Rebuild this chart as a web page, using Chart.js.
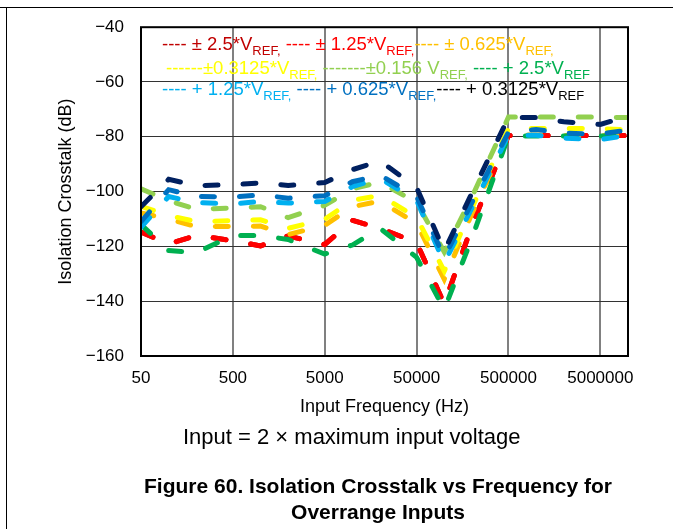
<!DOCTYPE html>
<html>
<head>
<meta charset="utf-8">
<script src="https://cdn.jsdelivr.net/npm/chart.js@4.4.1/dist/chart.umd.min.js"></script>
<style>
  body { margin: 0; background: #fff; font-family: 'Liberation Sans', Arial, sans-serif; }
  #wrap { position: relative; width: 673px; height: 529px; overflow: hidden; }
  #chart { position: absolute; left: 0; top: 0; }
  .frame-top { position: absolute; left: 0; top: 7px; width: 673px; height: 1px; background: #000; }
  .frame-left { position: absolute; left: 6px; top: 7px; width: 1px; height: 522px; background: #000; }
  .leg { position: absolute; white-space: nowrap; font-size: 18.5px; line-height: 20px; }
  .leg sub { font-size: 13px; vertical-align: -5px; line-height: 0; }
  .note { position: absolute; white-space: nowrap; font-size: 22px; line-height: 26px; }
  .caption { position: absolute; white-space: nowrap; font-size: 21px; font-weight: bold; text-align: center; line-height: 26px; }
</style>
</head>
<body>
<div id="wrap">
  <div class="frame-top"></div>
  <div class="frame-left"></div>
  <canvas id="chart" width="673" height="529"></canvas>
  <div class="leg" style="left:162px; top:34px;">
    <span style="color:#C00000">---- ± 2.5*V<sub>REF,</sub></span>
    <span style="color:#FF0000">---- ± 1.25*V<sub>REF,</sub></span><span style="color:#FFC000">---- ± 0.625*V<sub>REF,</sub></span>
  </div>
  <div class="leg" style="left:166px; top:58px;">
    <span style="color:#FFFF00">------±0.3125*V<sub>REF,</sub></span>
    <span style="color:#92D050">-------±0.156 V<sub>REF,</sub></span>
    <span style="color:#00B050">---- + 2.5*V<sub>REF</sub></span>
  </div>
  <div class="leg" style="left:162px; top:79px;">
    <span style="color:#00B0F0">---- + 1.25*V<sub>REF,</sub></span>
    <span style="color:#0070C0">---- + 0.625*V<sub>REF,</sub></span><span style="color:#000">---- + 0.3125*V<sub>REF</sub></span>
  </div>
  <div class="note" style="left:183px; top:424px;">Input = 2 × maximum input voltage</div>
  <div class="caption" style="left:128px; width:500px; top:473px;">Figure 60. Isolation Crosstalk vs Frequency for<br>Overrange Inputs</div>
</div>
<script>
// frequencies (Hz) and crosstalk (dB)
const freqs = [50, 100, 200, 500, 1000, 2000, 5000, 10000, 20000, 50000, 100000, 200000, 500000, 1000000, 2000000, 5000000, 10000000];

const bip2_5    = [-114.8, -119.1, -116.0, -117.9, -119.8, -116.2, -119.3, -110.5, -113.4, -118.6, -141.0, -112.5, -79.5, -79.5, -79.5, -79.5, -79.5];
const bip1_25   = [-114.8, -119.1, -116.0, -117.9, -119.8, -116.2, -119.3, -110.5, -113.4, -118.6, -141.0, -112.5, -79.5, -79.5, -79.5, -79.5, -79.5];
const bip0_625  = [-107.8, -110.0, -112.8, -112.7, -112.6, -115.7, -112.3, -105.5, -103.5, -111.6, -132.0, -108.0, -79.3, -79.3, -79.5, -79.5, -79.5];
const bip0_3125 = [-105.4, -108.7, -111.0, -110.6, -110.3, -113.4, -110.1, -103.2, -101.4, -109.4, -129.0, -106.0, -77.0, -77.0, -77.0, -77.0, -77.5];
const bip0_156  = [-99.0, -103.3, -106.5, -106.0, -105.5, -109.5, -105.0, -99.0, -96.5, -104.0, -122.0, -102.0, -72.8, -72.8, -72.8, -72.8, -73.0];
const uni2_5    = [-112.0, -121.5, -122.3, -116.0, -116.0, -117.5, -122.8, -119.5, -113.4, -124.0, -143.0, -117.0, -79.7, -79.7, -79.7, -79.7, -79.7];
const uni1_25   = [-113.0, -101.8, -104.0, -104.5, -103.6, -104.2, -103.6, -98.2, -95.2, -103.2, -126.0, -106.0, -79.4, -79.4, -80.5, -81.0, -79.5];
const uni0_625  = [-111.0, -99.3, -101.8, -102.0, -101.2, -102.4, -101.5, -96.4, -94.0, -101.8, -124.0, -104.0, -78.3, -77.3, -78.7, -79.0, -77.5];
const uni0_3125 = [-105.5, -95.5, -97.8, -97.5, -96.8, -97.8, -96.7, -92.0, -88.8, -98.5, -121.7, -100.5, -73.0, -73.0, -74.5, -75.5, -72.5];

const xTicks = [50, 500, 5000, 50000, 500000, 5000000, 10000000];
const yTicks = [-160, -140, -120, -100, -80, -60, -40];

const series = [
  { label: '± 2.5*VREF', data: bip2_5, color: '#C00000' },
  { label: '± 1.25*VREF', data: bip1_25, color: '#FF0000' },
  { label: '± 0.625*VREF', data: bip0_625, color: '#FFC000' },
  { label: '±0.3125*VREF', data: bip0_3125, color: '#FFFF00' },
  { label: '±0.156 VREF', data: bip0_156, color: '#92D050' },
  { label: '+ 2.5*VREF', data: uni2_5, color: '#00B050' },
  { label: '+ 1.25*VREF', data: uni1_25, color: '#00B0F0' },
  { label: '+ 0.625*VREF', data: uni0_625, color: '#0070C0' },
  { label: '+ 0.3125*VREF', data: uni0_3125, color: '#002060' }
];

Chart.defaults.font.family = "'Liberation Sans', Arial, sans-serif";
Chart.defaults.color = '#000';

// black box round the plot area
const plotBorder = {
  id: 'plotBorder',
  afterDraw(chart) {
    const { ctx, chartArea: a } = chart;
    ctx.save();
    ctx.strokeStyle = '#000';
    ctx.lineWidth = 2;
    ctx.strokeRect(a.left, a.top, a.right - a.left, a.bottom - a.top);
    ctx.restore();
  }
};

new Chart(document.getElementById('chart'), {
  type: 'line',
  data: {
    // later series sit on top, as in the original
    datasets: series.map((s, i) => ({
      label: s.label,
      data: freqs.map((f, j) => ({ x: f, y: s.data[j] })),
      order: series.length - i,
      borderColor: s.color,
      backgroundColor: s.color,
      borderWidth: 5,
      borderDash: [13, 25],
      borderCapStyle: 'round',
      pointRadius: 0,
      tension: 0,
      fill: false
    }))
  },
  options: {
    responsive: false,
    animation: false,
    devicePixelRatio: 1,
    layout: { padding: { left: 0, right: 45, top: 24, bottom: 111 } },
    plugins: { legend: { display: false }, tooltip: { enabled: false } },
    scales: {
      x: {
        type: 'logarithmic',
        min: 50,
        max: 10000000,
        afterBuildTicks: (scale) => { scale.ticks = xTicks.map(v => ({ value: v })); },
        afterFit: (scale) => { scale.height = 62; },
        ticks: {
          autoSkip: false,
          maxRotation: 0,
          padding: 12,
          font: { size: 17 },
          callback: (v) => (v === 10000000 ? '' : String(v))
        },
        grid: {
          drawTicks: false,
          color: (c) => (c.tick && (c.tick.value === 50 || c.tick.value === 10000000) ? 'rgba(0,0,0,0)' : '#808080'),
          lineWidth: 2
        },
        border: { display: false },
        title: { display: true, text: 'Input Frequency (Hz)', font: { size: 18 }, padding: { top: 0, bottom: 0 } }
      },
      y: {
        min: -160,
        max: -40,
        afterBuildTicks: (scale) => { scale.ticks = yTicks.map(v => ({ value: v })); },
        afterFit: (scale) => { scale.width = 141; },
        ticks: {
          padding: 17,
          font: { size: 17 },
          callback: (v) => String(v).replace('-', '\u2212')
        },
        grid: {
          drawTicks: false,
          color: (c) => (c.tick && (c.tick.value === -160 || c.tick.value === -40) ? 'rgba(0,0,0,0)' : '#333'),
          lineWidth: 1
        },
        border: { display: false },
        title: { display: true, text: 'Isolation Crosstalk (dB)', font: { size: 18 }, padding: { top: 55, bottom: 0 } }
      }
    }
  },
  plugins: [plotBorder]
});
</script>
</body>
</html>
